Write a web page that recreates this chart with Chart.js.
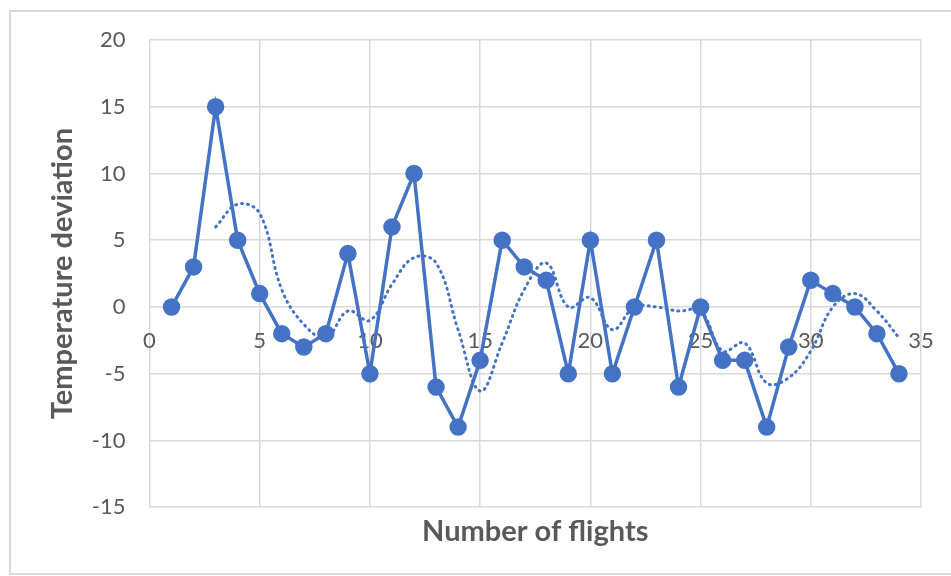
<!DOCTYPE html>
<html>
<head>
<meta charset="utf-8">
<script src="https://cdn.jsdelivr.net/npm/chart.js@4"></script>
<style>
  body { margin: 0; background: #fff; }
  #wrap { width: 951px; height: 576px; position: relative; }
</style>
</head>
<body>
<div id="wrap"><canvas id="chart" width="951" height="576"></canvas></div>
<script>
// flights 1..34 and measured deviation
const flights = [1,2,3,4,5,6,7,8,9,10,11,12,13,14,15,16,17,18,19,20,21,22,23,24,25,26,27,28,29,30,31,32,33,34]
const deviation = [0,3,15,5,1,-2,-3,-2,4,-5,6,10,-6,-9,-4,5,3,2,-5,5,-5,0,5,-6,0,-4,-4,-9,-3,2,1,0,-2,-5]
// dotted trend (starts at flight 3)
const trendX = [3,4,5,6,7,8,9,10,11,12,13,14,15,16,17,18,19,20,21,22,23,24,25,26,27,28,29,30,31,32,33,34]
const trendY = [6,7.7,7,1.3,-1.3,-2.3,-0.3,-1,1.7,3.7,3.3,-1.7,-6.3,-2.7,1.3,3.3,0,0.7,-1.7,0,0,-0.3,-0.3,-3.3,-2.7,-5.7,-5.3,-3.3,0,1,-0.3,-2.3]

const blue = "#4472C4"
const gray = "#595959"
const grid = "#d9d9d9"

const outerBox = {
  id: "outerBox",
  beforeDraw(chart){
    const ctx = chart.ctx
    ctx.save()
    ctx.strokeStyle = grid
    ctx.lineWidth = 2
    ctx.strokeRect(10, 11, 960, 563)
    ctx.restore()
  }
}

function noSidePad(scale){
  scale.paddingLeft = 0
  scale.paddingRight = 0
}

new Chart(document.getElementById("chart"), {
  type: "scatter",
  data: {
    datasets: [{
      data: flights.map((x, i) => ({x: x, y: deviation[i]})),
      showLine: true,
      borderColor: blue,
      backgroundColor: blue,
      borderWidth: 3.5,
      pointRadius: 7,
      pointHoverRadius: 7
    }, {
      data: trendX.map((x, i) => ({x: x, y: trendY[i]})),
      showLine: true,
      borderColor: blue,
      borderWidth: 3,
      borderDash: [1, 5],
      borderCapStyle: "round",
      tension: 0.4,
      pointRadius: 0
    }]
  },
  options: {
    responsive: false,
    animation: false,
    layout: { padding: { left: 45, top: 40, right: 30, bottom: 27 } },
    plugins: {
      legend: { display: false },
      tooltip: { enabled: false }
    },
    scales: {
      x: {
        type: "linear",
        position: { y: 0 },
        min: 0, max: 35,
        afterFit: noSidePad,
        ticks: { stepSize: 5, color: gray, font: { family: "Lato", size: 22 }, padding: 21 },
        grid: { color: grid, lineWidth: 1.5, drawTicks: false },
        border: { display: false }
      },
      xTitle: {
        type: "linear",
        position: "bottom",
        min: 0, max: 35,
        afterFit: noSidePad,
        ticks: { display: false },
        grid: { display: false, drawTicks: false },
        border: { display: false },
        title: {
          display: true,
          text: "Number of flights",
          color: gray,
          font: { family: "Lato", size: 29, weight: "bold" },
          padding: { top: 7, bottom: 0 }
        }
      },
      y: {
        min: -15, max: 20,
        ticks: { stepSize: 5, color: gray, font: { family: "Lato", size: 22 }, padding: 24 },
        grid: { color: grid, lineWidth: 1.5, drawTicks: false },
        border: { display: false },
        title: {
          display: true,
          text: "Temperature deviation",
          color: gray,
          font: { family: "Lato", size: 29, weight: "bold" },
          padding: { top: 0, bottom: -12 }
        }
      }
    }
  },
  plugins: [outerBox]
});
</script>
</body>
</html>
